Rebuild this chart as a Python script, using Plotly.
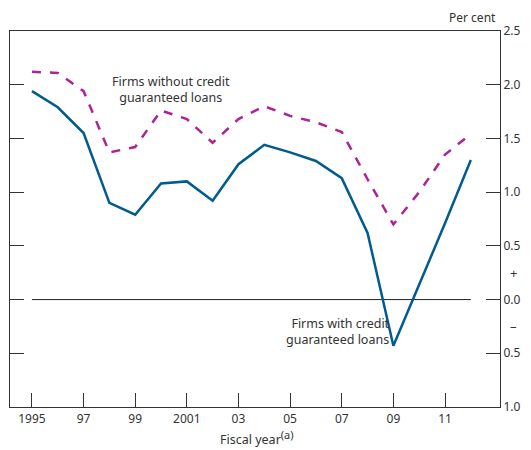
import plotly.graph_objects as go

years = list(range(1995, 2013))
with_cgl = [1.94, 1.79, 1.55, 0.90, 0.79, 1.08, 1.10, 0.92, 1.26, 1.44, 1.37, 1.29, 1.13, 0.62, -0.43, 0.14, 0.71, 1.30]
without_cgl = [2.12, 2.11, 1.94, 1.37, 1.42, 1.76, 1.68, 1.46, 1.68, 1.80, 1.71, 1.65, 1.56, 1.12, 0.70, 1.00, 1.35, 1.54]

x_tickvals = [1995, 1997, 1999, 2001, 2003, 2005, 2007, 2009, 2011]
x_ticktext = ["1995", "97", "99", "2001", "03", "05", "07", "09", "11"]
y_tickvals = [2.5, 2.0, 1.5, 1.0, 0.5, 0.0, -0.5, -1.0]
y_ticktext = ["2.5", "2.0", "1.5", "1.0", "0.5", "0.0", "0.5", "1.0"]

BLUE = "#005b8e"
MAGENTA = "#ad2294"
TXT = "#333333"
FONT = "Noto Sans"

fig = go.Figure()
fig.add_trace(go.Scatter(x=[years[0], years[-1]], y=[0, 0], mode="lines",
                         line=dict(color="#222222", width=1), hoverinfo="skip", showlegend=False))
fig.add_trace(go.Scatter(x=years, y=without_cgl, mode="lines", name="Firms without credit guaranteed loans",
                         line=dict(color=MAGENTA, width=2.5, dash="dash"), showlegend=False))
fig.add_trace(go.Scatter(x=years, y=with_cgl, mode="lines", name="Firms with credit guaranteed loans",
                         line=dict(color=BLUE, width=2.5), showlegend=False))

fig.update_layout(
    width=531, height=450,
    margin=dict(l=10, r=31, t=31, b=43),
    paper_bgcolor="white", plot_bgcolor="white",
    font=dict(family=FONT, size=12, color=TXT),
    xaxis=dict(range=[1994.15, 2013.13], tickmode="array", tickvals=x_tickvals, ticktext=x_ticktext,
               ticks="inside", ticklen=14, tickwidth=1, tickcolor="#333333",
               showline=True, linecolor="#333333", linewidth=1.2, mirror=True,
               showgrid=False, zeroline=False, tickfont=dict(size=12, color=TXT)),
    yaxis=dict(range=[-1.0, 2.5], side="right", tickmode="array", tickvals=y_tickvals, ticktext=y_ticktext,
               ticks="inside", ticklen=14, tickwidth=1, tickcolor="#333333",
               showline=True, linecolor="#333333", linewidth=1.2, mirror="ticks",
               showgrid=False, zeroline=False, tickfont=dict(size=12, color=TXT)),
    annotations=[
        dict(text="Per cent", xref="paper", yref="paper", x=0.995, y=1.0, xanchor="right", yanchor="bottom",
             yshift=3, showarrow=False, font=dict(size=12, color=TXT)),
        dict(text="+", xref="paper", yref="y", x=1.0, y=0.25, xanchor="left", yanchor="middle",
             xshift=8, showarrow=False, font=dict(size=13, color=TXT)),
        dict(text="\u2013", xref="paper", yref="y", x=1.0, y=-0.25, xanchor="left", yanchor="middle",
             xshift=8, showarrow=False, font=dict(size=13, color=TXT)),
        dict(text="Firms without credit<br>guaranteed loans", xref="x", yref="y", x=2000.4, y=1.96,
             xanchor="center", yanchor="middle", showarrow=False, align="center",
             font=dict(size=12.5, color=TXT)),
        dict(text="Firms with credit<br>guaranteed loans", xref="x", yref="y", x=2008.95, y=-0.30,
             xanchor="right", yanchor="middle", showarrow=False, align="right",
             font=dict(size=12.5, color=TXT)),
        dict(text="Fiscal year<sup><span style='font-size:11px'>(a)</span></sup>", xref="paper", yref="paper",
             x=0.505, y=0, yshift=-30,
             xanchor="center", yanchor="middle", showarrow=False, font=dict(size=12.5, color=TXT)),
    ],
)

fig.write_html("out.html", config={"displayModeBar": False},
               post_script="document.body.style.margin='0';document.body.style.padding='0';")
